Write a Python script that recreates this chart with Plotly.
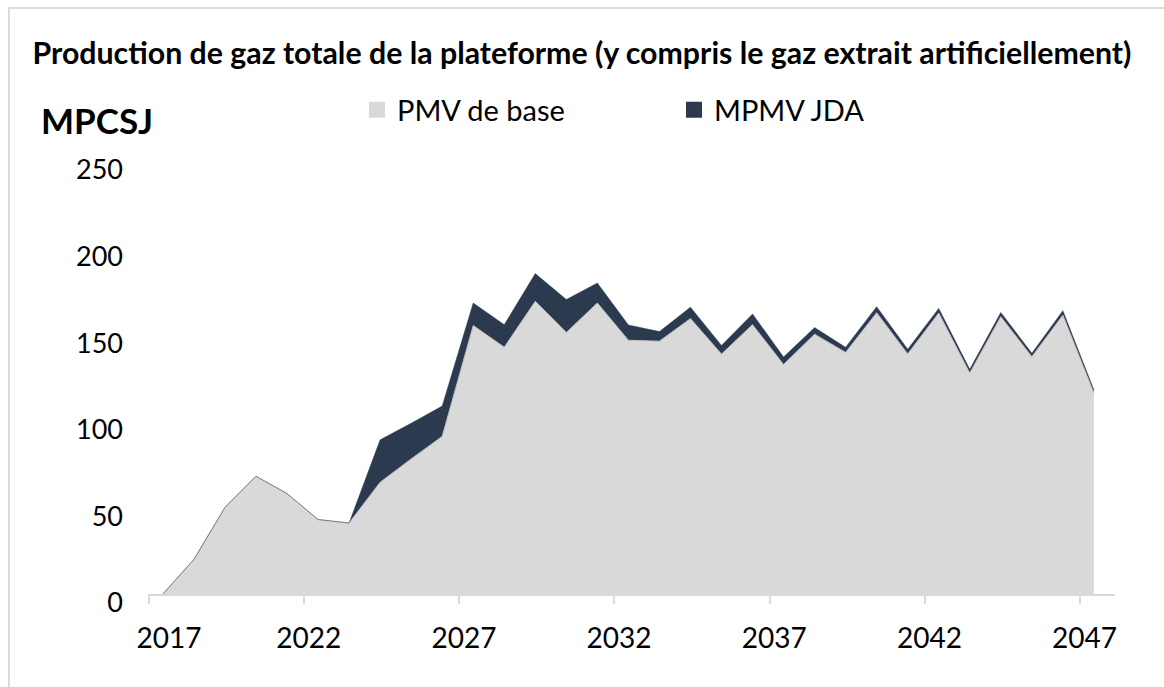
import plotly.graph_objects as go

years = list(range(2017, 2048))
pmv_base = [0, 20, 50, 68, 58, 43, 41, 64.5, 78, 91, 155, 142.5, 169, 151, 168,
            146.5, 146, 159, 138.5, 155.5, 132.5, 150, 139.5, 162.4, 138.6,
            162.2, 127.6, 160.1, 137, 161, 116]
mpmv_jda = [0, 0, 0, 0, 0, 0, 0, 24.5, 20.6, 17.5, 13, 13, 16, 19, 11.5,
            8.8, 5.5, 6.6, 5, 6.2, 4.3, 3.8, 2.9, 3.5, 2.7,
            2.7, 2.1, 2.5, 2, 2.6, 1.8]
tick_labels = ["2017", "2022", "2027", "2032", "2037", "2042", "2047"]
y_ticks = [0, 50, 100, 150, 200, 250]

series_names = ["PMV de base", "MPMV JDA"]
title_text = "Production de gaz totale de la plateforme (y compris le gaz extrait artificiellement)"
unit_text = "MPCSJ"

BASE_COLOR = "#d9d9d9"
JDA_COLOR = "#2c3a50"
AXIS_COLOR = "#d9d9d9"
FONT = "Lato"

fig = go.Figure()
fig.add_trace(go.Scatter(
    x=years, y=pmv_base, stackgroup="one", mode="lines",
    line=dict(color="#bdbdbd", width=1), fillcolor=BASE_COLOR,
    name=series_names[0], showlegend=False, hoverinfo="skip"))
fig.add_trace(go.Scatter(
    x=years, y=mpmv_jda, stackgroup="one", mode="lines",
    line=dict(color=JDA_COLOR, width=0.5), fillcolor=JDA_COLOR,
    name=series_names[1], showlegend=False, hoverinfo="skip"))

# legend-only square markers
fig.add_trace(go.Scatter(x=[None], y=[None], mode="markers",
                         marker=dict(symbol="square", size=16, color=BASE_COLOR),
                         name=series_names[0]))
fig.add_trace(go.Scatter(x=[None], y=[None], mode="markers",
                         marker=dict(symbol="square", size=16, color=JDA_COLOR),
                         name=series_names[1]))

L, R, T, B = 148, 49, 161, 93
W, H = 1164, 687
pw, ph = W - L - R, H - T - B

# label positions (slightly right of the category-boundary tick marks)
label_pos = [int(t) - 0.3 for t in tick_labels]
label_pos[0] = int(tick_labels[0]) + 0.2

fig.update_layout(
    width=W, height=H,
    margin=dict(l=L, r=R, t=T, b=B, autoexpand=False),
    paper_bgcolor="white", plot_bgcolor="white",
    font=dict(family=FONT, color="#000000", size=28),
    title=dict(text=title_text, x=0.5, xanchor="center", y=1 - 53 / H,
               yanchor="middle", font=dict(family=FONT, size=30.3, color="#000000",
                                            weight="bold")),
    legend=dict(orientation="h", x=(357 - L) / pw, xanchor="left",
                y=(H - B - 110) / ph, yanchor="middle", traceorder="normal",
                font=dict(size=29, family=FONT, color="#000000"),
                entrywidth=272, bgcolor="rgba(0,0,0,0)", itemclick=False),
    xaxis=dict(range=[2016.52, 2047.68], tickmode="array",
               tickvals=label_pos, ticktext=tick_labels,
               showgrid=False, zeroline=False, showline=True, linecolor=AXIS_COLOR,
               linewidth=2, ticks="", ticklabelstandoff=18, automargin=False,
               minor=dict(ticks="outside", ticklen=8, tickcolor=AXIS_COLOR,
                          tickwidth=2, tick0=2016.55, dtick=5, showgrid=False),
               tickfont=dict(size=28), fixedrange=True),
    yaxis=dict(range=[0, 250], tickvals=y_ticks, showgrid=False, zeroline=False,
               showline=False, ticks="", ticklabelstandoff=24, automargin=False,
               ticklabelshift=9, tickfont=dict(size=27), fixedrange=True),
    annotations=[dict(text="<b>" + unit_text + "</b>", xref="paper", yref="paper",
                      x=(39 - L) / pw, y=(H - B - 120) / ph, xanchor="left",
                      yanchor="middle", showarrow=False,
                      font=dict(family=FONT, size=35, color="#000000"))],
    shapes=[dict(type="rect", xref="paper", yref="paper",
                 x0=(9 - L) / pw, x1=(W + 20 - L) / pw,
                 y0=-0.5, y1=(H - B - 8) / ph,
                 line=dict(color="#cfcfcf", width=1.5), layer="below")],
)

fig.write_html("out.html", config={"displayModeBar": False},
               post_script="document.body.style.margin='0';document.body.style.overflow='hidden';")
